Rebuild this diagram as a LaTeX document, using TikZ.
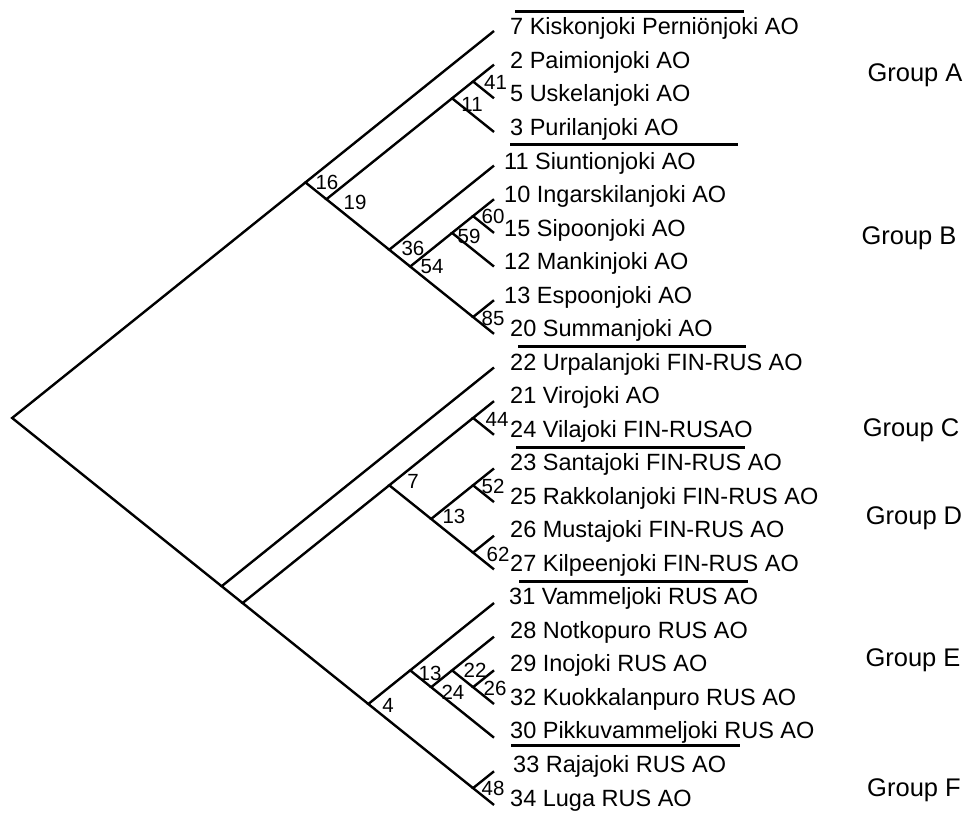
\documentclass[tikz,border=0pt]{standalone}
\usepackage{fontspec}
\setmainfont{Liberation Sans}
\usetikzlibrary{calc}
\newcommand{\cladenode}[3]{\coordinate (#1) at ({494-(#3-#2)*20.95},{31+(#2+#3)*16.825});}
\begin{document}
\begin{tikzpicture}[x=1pt,y=-1pt,
  br/.style={line width=2.4pt},
  sep/.style={line width=3pt},
  leaf/.style={anchor=base west, inner sep=0pt, font=\fontsize{23.5}{28}\selectfont},
  bs/.style={inner sep=0pt, font=\fontsize{20.5}{24}\selectfont},
  grp/.style={inner sep=0pt, font=\fontsize{25.5}{30}\selectfont}]
\useasboundingbox (0,0) rectangle (967,816);
% leaves
\foreach \i in {0,...,23} {\cladenode{L\i}{\i}{\i}}
% internal nodes
\cladenode{root}{0}{23}
\cladenode{n16}{0}{9}
\cladenode{n19}{1}{9}
\cladenode{n11}{1}{3}
\cladenode{n41}{1}{2}
\cladenode{n36}{4}{9}
\cladenode{n54}{5}{9}
\cladenode{n59}{5}{7}
\cladenode{n60}{5}{6}
\cladenode{n85}{8}{9}
\cladenode{nC}{10}{23}
\cladenode{nX}{11}{23}
\cladenode{n7}{11}{16}
\cladenode{n44}{11}{12}
\cladenode{n13}{13}{16}
\cladenode{n52}{13}{14}
\cladenode{n62}{15}{16}
\cladenode{n4}{17}{23}
\cladenode{n13E}{17}{21}
\cladenode{n24}{18}{21}
\cladenode{n22}{18}{20}
\cladenode{n26}{19}{20}
\cladenode{n48}{22}{23}
% branches
\draw[br] (n16) -- (root) -- (nC);
\draw[br] (L0) -- (n16) -- (n19);
\draw[br] (n11) -- (n19) -- (n36);
\draw[br] (n41) -- (n11) -- (L3);
\draw[br] (L1) -- (n41) -- (L2);
\draw[br] (L4) -- (n36) -- (n54);
\draw[br] (n59) -- (n54) -- (n85);
\draw[br] (n60) -- (n59) -- (L7);
\draw[br] (L5) -- (n60) -- (L6);
\draw[br] (L8) -- (n85) -- (L9);
\draw[br] (L10) -- (nC) -- (nX);
\draw[br] (n7) -- (nX) -- (n4);
\draw[br] (n44) -- (n7) -- (n13);
\draw[br] (L11) -- (n44) -- (L12);
\draw[br] (n52) -- (n13) -- (n62);
\draw[br] (L13) -- (n52) -- (L14);
\draw[br] (L15) -- (n62) -- (L16);
\draw[br] (n13E) -- (n4) -- (n48);
\draw[br] (L17) -- (n13E) -- (n24);
\draw[br] (n22) -- (n24) -- (L21);
\draw[br] (L18) -- (n22) -- (n26);
\draw[br] (L19) -- (n26) -- (L20);
\draw[br] (L22) -- (n48) -- (L23);
% support values
\node[bs] (b41) at ($(n41)+(22.5,0.5)$) {41};
\node[bs] (b11) at ($(n11)+(20,6)$) {11};
\node[bs] (b16) at ($(n16)+(21.5,0)$) {16};
\node[bs] (b19) at ($(n19)+(28.6,3)$) {19};
\node[bs] (b36) at ($(n36)+(23.7,-1)$) {36};
\node[bs] (b54) at ($(n54)+(21.8,0)$) {54};
\node[bs] (b60) at ($(n60)+(20,0.6)$) {60};
\node[bs] (b59) at ($(n59)+(17,4)$) {59};
\node[bs] (b85) at ($(n85)+(20,1)$) {85};
\node[bs] (b44) at ($(n44)+(24,1)$) {44};
\node[bs] (b7) at ($(n7)+(23.7,-3.6)$) {7};
\node[bs] (b52) at ($(n52)+(20,1)$) {52};
\node[bs] (b13) at ($(n13)+(22.8,-2.3)$) {13};
\node[bs] (b62) at ($(n62)+(25,2)$) {62};
\node[bs] (b13E) at ($(n13E)+(19.8,3.3)$) {13};
\node[bs] (b22) at ($(n22)+(23,0)$) {22};
\node[bs] (b24) at ($(n24)+(21.8,5.4)$) {24};
\node[bs] (b26) at ($(n26)+(22,1)$) {26};
\node[bs] (b4) at ($(n4)+(19.7,1.6)$) {4};
\node[bs] (b48) at ($(n48)+(20,0)$) {48};
% leaf labels
\node[leaf] (t0) at (510,35) {7 Kiskonjoki Perniönjoki AO};
\node[leaf] (t1) at (510,68.5) {2 Paimionjoki AO};
\node[leaf] (t2) at (510,102) {5 Uskelanjoki AO};
\node[leaf] (t3) at (510,135.6) {3 Purilanjoki AO};
\node[leaf] (t4) at (504,169.1) {11 Siuntionjoki AO};
\node[leaf] (t5) at (504,202.6) {10 Ingarskilanjoki AO};
\node[leaf] (t6) at (504,236.1) {15 Sipoonjoki AO};
\node[leaf] (t7) at (504,269.6) {12 Mankinjoki AO};
\node[leaf] (t8) at (504,303.2) {13 Espoonjoki AO};
\node[leaf] (t9) at (510,336.7) {20 Summanjoki AO};
\node[leaf] (t10) at (510,370.2) {22 Urpalanjoki FIN-RUS AO};
\node[leaf] (t11) at (510,403.7) {21 Virojoki AO};
\node[leaf] (t12) at (510,437.2) {24 Vilajoki FIN-RUSAO};
\node[leaf] (t13) at (510,470.8) {23 Santajoki FIN-RUS AO};
\node[leaf] (t14) at (510,504.3) {25 Rakkolanjoki FIN-RUS AO};
\node[leaf] (t15) at (510,537.8) {26 Mustajoki FIN-RUS AO};
\node[leaf] (t16) at (510,571.3) {27 Kilpeenjoki FIN-RUS AO};
\node[leaf] (t17) at (509,604.8) {31 Vammeljoki RUS AO};
\node[leaf] (t18) at (510,638.4) {28 Notkopuro RUS AO};
\node[leaf] (t19) at (510,671.9) {29 Inojoki RUS AO};
\node[leaf] (t20) at (510,705.4) {32 Kuokkalanpuro RUS AO};
\node[leaf] (t21) at (510,738.9) {30 Pikkuvammeljoki RUS AO};
\node[leaf] (t22) at (513,772.4) {33 Rajajoki RUS AO};
\node[leaf] (t23) at (510,806) {34 Luga RUS AO};
% group separators
\draw[sep] (515,12) -- (744,12);
\draw[sep] (510,144) -- (738,144);
\draw[sep] (518,346) -- (746,346);
\draw[sep] (516,447) -- (745,447);
\draw[sep] (519,581) -- (748,581);
\draw[sep] (511,745) -- (740,745);
% group labels
\node[grp] (gA) at (915,75.5) {Group A};
\node[grp] (gB) at (909,238) {Group B};
\node[grp] (gC) at (911,430) {Group C};
\node[grp] (gD) at (914,518) {Group D};
\node[grp] (gE) at (913,660) {Group E};
\node[grp] (gF) at (914,790) {Group F};
\end{tikzpicture}
\end{document}
